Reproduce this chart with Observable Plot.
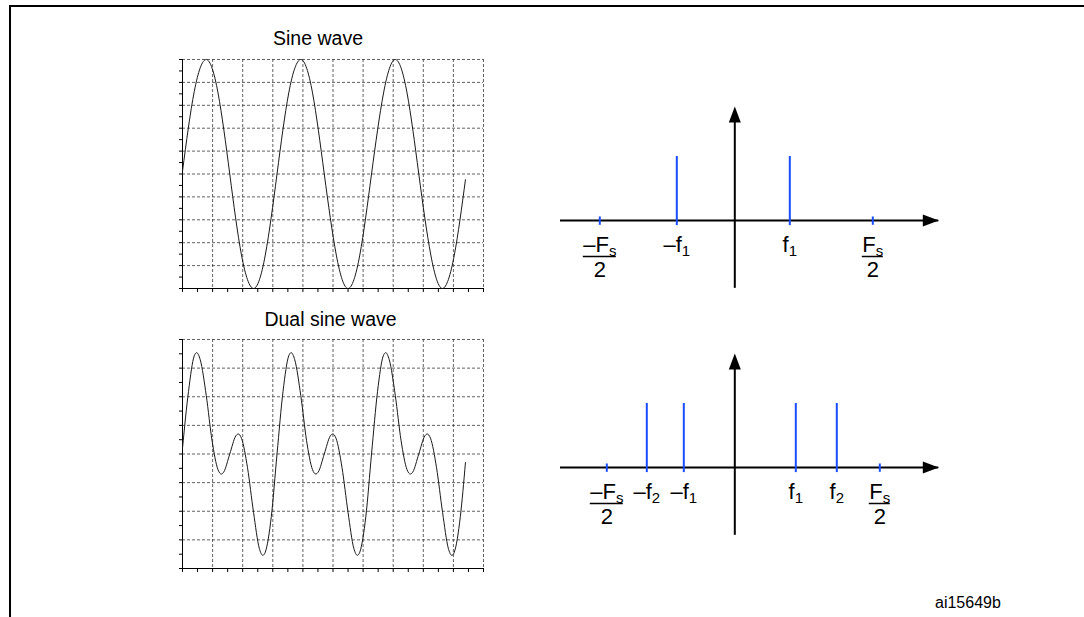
<!DOCTYPE html>
<html><head><meta charset="utf-8">
<script src="https://cdn.jsdelivr.net/npm/d3@7"></script>
<script src="https://cdn.jsdelivr.net/npm/@observablehq/plot@0.6"></script>
<style>
body{margin:0;background:#fff;font-family:"Liberation Sans",Arial,Helvetica,sans-serif;}
#root{position:relative;width:1084px;height:617px;overflow:hidden;background:#fff}
.abs{position:absolute}
.frame{left:9px;top:5px;width:1200px;height:700px;border-top:2px solid #000;border-left:2px solid #000;box-sizing:border-box}
.title{font-size:19.5px;line-height:1;white-space:nowrap;transform:translateX(-50%);color:#000}
.code{font-size:16px;line-height:1;white-space:nowrap;color:#000}
</style></head>
<body><div id="root">
<div class="abs frame"></div>
<div class="abs title" id="t1" style="left:318px;top:28.5px"></div>
<div class="abs title" id="t2" style="left:330.5px;top:310px"></div>
<div class="abs" id="w1" style="left:160px;top:50px"></div>
<div class="abs" id="w2" style="left:160px;top:330px"></div>
<div class="abs" id="s1" style="left:540px;top:90px"></div>
<div class="abs" id="s2" style="left:540px;top:337.3px"></div>
<div class="abs code" id="code" style="left:935px;top:594.5px"></div>
</div>
<script>
// ---- data ----
const panelTitles = ["Sine wave", "Dual sine wave"];
const figureCode = "ai15649b";

const sineX = [0, 0.39, 0.79, 1.18, 1.57, 1.96, 2.36, 2.75, 3.14, 3.53, 3.93, 4.32, 4.71, 5.11, 5.50, 5.89, 6.28, 6.68, 7.07, 7.46, 7.85, 8.25, 8.64, 9.03, 9.40];
const sineY = [0.12, 3.6, 5, 3.54, 0, -3.54, -5, -3.54, 0, 3.54, 5, 3.54, 0, -3.54, -5, -3.54, 0, 3.54, 5, 3.54, 0, -3.54, -5, -3.54, -0.25];

const dualX = [0, 0.20, 0.39, 0.47, 0.59, 0.79, 0.98, 1.18, 1.29, 1.37, 1.57, 1.77, 1.85, 1.96, 2.16, 2.36, 2.55, 2.67, 2.75, 2.95,
  3.14, 3.34, 3.53, 3.61, 3.73, 3.93, 4.12, 4.32, 4.43, 4.51, 4.71, 4.91, 4.99, 5.10, 5.30, 5.50, 5.69, 5.81, 5.89, 6.09,
  6.28, 6.48, 6.67, 6.75, 6.87, 7.07, 7.26, 7.46, 7.57, 7.65, 7.85, 8.05, 8.13, 8.24, 8.44, 8.64, 8.83, 8.95, 9.03, 9.23, 9.40];
const dualY = [0.2, 2.19, 3.43, 3.54, 3.29, 2.04, 0.48, -0.55, -0.70, -0.63, 0, 0.63, 0.70, 0.55, -0.48, -2.04, -3.29, -3.54, -3.43, -2.19,
  0, 2.19, 3.43, 3.54, 3.29, 2.04, 0.48, -0.55, -0.70, -0.63, 0, 0.63, 0.70, 0.55, -0.48, -2.04, -3.29, -3.54, -3.43, -2.19,
  0, 2.19, 3.43, 3.54, 3.29, 2.04, 0.48, -0.55, -0.70, -0.63, 0, 0.63, 0.70, 0.55, -0.48, -2.04, -3.29, -3.54, -3.43, -2.19, -0.30];

const waveGridX = [1, 2, 3, 4, 5, 6, 7, 8, 9, 10];
const waveMinorX = [0, 0.5, 1, 1.5, 2, 2.5, 3, 3.5, 4, 4.5, 5, 5.5, 6, 6.5, 7, 7.5, 8, 8.5, 9, 9.5, 10];
const sineGridY = [-4, -3, -2, -1, 0, 1, 2, 3, 4, 5];
const sineMinorY = [-5, -4.5, -4, -3.5, -3, -2.5, -2, -1.5, -1, -0.5, 0, 0.5, 1, 1.5, 2, 2.5, 3, 3.5, 4, 4.5, 5];
const dualGridY = [-3, -2, -1, 0, 1, 2, 3, 4];
const dualMinorY = [-4, -3.5, -3, -2.5, -2, -1.5, -1, -0.5, 0, 0.5, 1, 1.5, 2, 2.5, 3, 3.5, 4];

// spectra (frequency axis in arbitrary units, 0 = DC)
const topSpikeFreq = [-58, 55];
const topSpikeAmp = [1, 1];
const topSpikeLabel = ["–f_1", "f_1"];
const topNyqFreq = [-135, 138];
const topNyqLabel = ["–F_s", "F_s"];

const botSpikeFreq = [-88, -51, 61, 102];
const botSpikeAmp = [1, 1, 1, 1];
const botSpikeLabel = ["–f_2", "–f_1", "f_1", "f_2"];
const botNyqFreq = [-128, 145];
const botNyqLabel = ["–F_s", "F_s"];
const nyqDenominator = "2";

const freqExtent = [-174.3, 204];
const ampExtent = [-1.06, 1.78];

// ---- drawing ----
const FONT = "'Liberation Sans', Arial, Helvetica, sans-serif";
const BLUE = "#1a4cff";

document.getElementById("t1").textContent = panelTitles[0];
document.getElementById("t2").textContent = panelTitles[1];
document.getElementById("code").textContent = figureCode;

function wave(xs, ys, yDomain, gridY, minorY, curve) {
  const pts = xs.map((x, i) => ({x, y: ys[i]}));
  const dash = {stroke: "#3a3a3a", strokeWidth: 0.8, strokeDasharray: "3,2"};
  return Plot.plot({
    width: 340, height: 250,
    marginLeft: 22, marginRight: 17, marginTop: 9, marginBottom: 12,
    style: {background: "transparent", fontFamily: FONT},
    x: {domain: [0, 10], axis: null},
    y: {domain: yDomain, axis: null},
    marks: [
      Plot.ruleX(waveGridX, dash),
      Plot.ruleY(gridY, dash),
      Plot.axisX(waveMinorX, {anchor: "bottom", tickSize: 4, tickFormat: () => "", label: null}),
      Plot.axisY(minorY, {anchor: "left", tickSize: 3, tickFormat: () => "", label: null}),
      Plot.ruleX([0], {stroke: "#000", strokeWidth: 1}),
      Plot.ruleY([yDomain[0]], {stroke: "#000", strokeWidth: 1}),
      Plot.line(pts, {x: "x", y: "y", curve, stroke: "#1a1a1a", strokeWidth: 1})
    ]
  });
}

const arrowUp = {draw(ctx) { ctx.moveTo(0, 0); ctx.lineTo(6, 16); ctx.lineTo(-6, 16); ctx.closePath(); }};
const arrowRight = {draw(ctx) { ctx.moveTo(0, 0); ctx.lineTo(-16, 6); ctx.lineTo(-16, -6); ctx.closePath(); }};

function spectrum(spikeF, spikeA, spikeL, nyqF, nyqL) {
  const spikes = spikeF.map((f, i) => ({f, amp: spikeA[i], label: spikeL[i]}));
  const nyq = nyqF.map((f, i) => ({f, num: nyqL[i], den: nyqDenominator}));
  const txt = {y: 0, lineAnchor: "bottom", fontSize: 22, fill: "#000", textAnchor: "middle"};
  const half = d => (d.num.startsWith("–") ? 16.5 : 10.5);
  const svg = Plot.plot({
    width: 420, height: 215,
    marginLeft: 20, marginRight: 21.7, marginTop: 8.4, marginBottom: 8.2,
    style: {background: "transparent", fontFamily: FONT, overflow: "visible"},
    x: {domain: freqExtent, axis: null},
    y: {domain: [-1.2, 1.9], axis: null},
    marks: [
      Plot.ruleY([0], {stroke: "#000", strokeWidth: 2}),
      Plot.ruleX([0], {y1: ampExtent[0], y2: ampExtent[1] - 0.2, stroke: "#000", strokeWidth: 2}),
      Plot.dot([{x: freqExtent[1], y: 0}], {x: "x", y: "y", symbol: arrowRight, fill: "#000", stroke: "none"}),
      Plot.dot([{x: 0, y: ampExtent[1]}], {x: "x", y: "y", symbol: arrowUp, fill: "#000", stroke: "none"}),
      Plot.ruleX(spikes, {x: "f", y1: -0.08, y2: "amp", stroke: BLUE, strokeWidth: 2}),
      Plot.ruleX(nyq, {x: "f", y1: -0.075, y2: 0.055, stroke: BLUE, strokeWidth: 2}),
      Plot.text(spikes, {...txt, x: "f", text: "label", dy: 31}),
      Plot.text(nyq, {...txt, x: "f", text: "num", dy: 31}),
      Plot.ruleY(nyq, {y: 0, x1: d => d.f - half(d), x2: d => d.f + half(d), dy: 36, stroke: "#000", strokeWidth: 1.5}),
      Plot.text(nyq, {...txt, x: "f", text: "den", dy: 56})
    ]
  });
  d3.select(svg).selectAll("text").each(function () {
    const t = this.textContent;
    if (!t.includes("_")) return;
    const [base, sub] = t.split("_");
    const sel = d3.select(this);
    sel.text(null);
    sel.append("tspan").text(base);
    sel.append("tspan").attr("font-size", 15).attr("dy", 4.5).text(sub);
  });
  return svg;
}

document.getElementById("w1").append(wave(sineX, sineY, [-5, 5], sineGridY, sineMinorY, "natural"));
document.getElementById("w2").append(wave(dualX, dualY, [-4, 4], dualGridY, dualMinorY, "monotone-x"));
document.getElementById("s1").append(spectrum(topSpikeFreq, topSpikeAmp, topSpikeLabel, topNyqFreq, topNyqLabel));
document.getElementById("s2").append(spectrum(botSpikeFreq, botSpikeAmp, botSpikeLabel, botNyqFreq, botNyqLabel));
</script>
</body></html>
